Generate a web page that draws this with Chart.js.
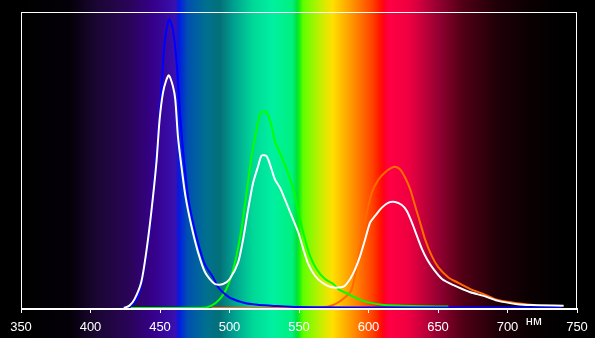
<!DOCTYPE html>
<html>
<head>
<meta charset="utf-8">
<script src="https://cdn.jsdelivr.net/npm/chart.js@4/dist/chart.umd.min.js"></script>
<style>
  html, body { margin: 0; padding: 0; background: #000; }
  #wrap { width: 595px; height: 338px; }
</style>
</head>
<body>
<div id="wrap"><canvas id="spectrum"></canvas></div>
<script>
// --- data (wavelength nm, relative intensity 0..100) --- //
const whiteNm = [424, 428, 431.7, 436.5, 440.1, 443.7, 447.4, 449.7, 452.1, 454.6, 456.4, 459.3, 461, 462.9, 465.4, 468.3, 472.6, 477.4, 482.5, 489.5, 495.4, 500.2, 506.2, 509.8, 513.4, 517, 520.6, 523.1, 526.7, 530.3, 532.7, 536.3, 539.9, 544.7, 549.5, 553.1, 556.7, 561.5, 566.3, 573.6, 582, 586.8, 590.4, 594, 597.6, 601.2, 604.7, 609.6, 614.4, 619.2, 624, 627.6, 631.2, 634.9, 638.5, 642.1, 646.8, 652.9, 661.2, 673.3, 682.9, 692.5, 707, 716.6, 740.4];
const whiteVal = [0, 0.8, 3, 8.7, 18.8, 32.2, 49, 63.6, 72.6, 77.1, 78.6, 74.9, 70.4, 58, 47.9, 37.8, 27.7, 18.8, 12, 8.1, 8.1, 9.8, 15.4, 23.2, 33.3, 42.3, 47.9, 51.5, 51.3, 46.8, 43.4, 40.6, 36.7, 31.1, 25.5, 19.9, 14.8, 10.9, 8.7, 7, 7.2, 9.8, 13.1, 17.6, 23.2, 28.9, 31.1, 33.9, 35.6, 35.8, 34.8, 32.8, 28.9, 24.3, 19.9, 16.5, 13.1, 9.8, 7.7, 5.3, 4.1, 2.5, 1.3, 1, 0.8];

const blueNm = [423, 430, 435.3, 441.3, 444.9, 448.5, 451, 453.3, 456.5, 459.3, 461.8, 464.2, 466.5, 470.1, 473.7, 478.6, 482.5, 488, 491.8, 496, 501.4, 511, 520, 530, 549, 600, 739];
const blueVal = [0, 1, 5.3, 22, 37.8, 58, 73.7, 89.6, 97.5, 94, 83.8, 67, 53.5, 37.8, 29, 19.9, 14.5, 10.5, 7, 5, 3.2, 1.7, 1.1, 0.8, 0.3, 0.2, 0.2];

const greenNm = [429, 480, 487, 493, 497.8, 501.4, 505, 508.6, 512.3, 515.9, 519.5, 522.6, 526.7, 530.3, 532.7, 536.3, 541.1, 545.9, 550.7, 554.3, 557.9, 562.7, 568.7, 574.7, 578.3, 585.5, 592.7, 600, 609.6, 624, 638.5, 657.4];
const greenVal = [0, 0, 0.8, 3, 6.4, 10.9, 17.6, 26.6, 39, 51.3, 60.3, 66.1, 66.1, 61.4, 56.3, 52.4, 46.8, 40.1, 30, 23.2, 17.6, 13.1, 9.8, 8.1, 6.4, 4.7, 3, 1.9, 1.1, 0.8, 0.6, 0.5];

const redNm = [487, 565, 574.7, 583.2, 588, 591.6, 595.2, 598.8, 602.4, 607.2, 612, 616.8, 619.2, 622.8, 626.4, 630, 633.6, 637.1, 640.7, 645.5, 650.3, 657.5, 663.7, 673.3, 682.9, 692.5, 707, 716.6, 720];
const redVal = [0, 0.2, 1, 3.6, 6.4, 14.2, 23.2, 32.2, 39, 43.4, 45.9, 47.4, 47.7, 46.8, 44, 40.1, 34.4, 28.9, 23.2, 17.6, 13.7, 10.3, 8.7, 6.4, 4.7, 2.8, 1.6, 1.1, 1];

const xTicks = [350, 400, 450, 500, 550, 600, 650, 700, 750];
const unitLabel = "нм";

// colour of the background strip at a given wavelength
const bandNm = [350, 385, 404, 428, 445, 461, 463.5, 466, 470, 483, 493, 503, 517, 531, 545, 548.5, 550, 553, 565, 574, 589, 603, 609, 611, 615, 628, 633, 651, 668, 692, 716, 740, 750];
const bandColor = ['#000000', '#040008', '#1a0632', '#2a0458', '#35008a', '#3a10b0', '#0818e0', '#0030d0', '#0050b0', '#007090', '#047078', '#00a090', '#00d898', '#00f0a0', '#00f080', '#00e040', '#10f010', '#60ff00', '#c0f000', '#ffe000', '#ff9000', '#ff4000', '#ff1000', '#ff0020', '#ff0044', '#f00040', '#e00040', '#900030', '#500015', '#200008', '#0a0002', '#000000', '#000000'];

function pts(xs, ys) {
  return xs.map((x, i) => ({ x: x, y: ys[i] }));
}

// --- background + frame --- //
const spectrumBg = {
  id: 'spectrumBg',
  beforeDraw(chart) {
    const ctx = chart.ctx;
    const xs = chart.scales.x;
    ctx.save();
    ctx.fillStyle = '#000';
    ctx.fillRect(0, 0, chart.width, chart.height);
    const x0 = xs.getPixelForValue(350);
    const x1 = xs.getPixelForValue(750);
    const g = ctx.createLinearGradient(x0, 0, x1, 0);
    bandNm.forEach((nm, i) => g.addColorStop((nm - 350) / 400, bandColor[i]));
    ctx.fillStyle = g;
    ctx.fillRect(x0, 0, x1 - x0, chart.height);
    ctx.restore();
  },
  beforeDatasetsDraw(chart) {
    const ctx = chart.ctx;
    const a = chart.chartArea;
    ctx.save();
    ctx.fillStyle = '#fff';
    ctx.fillRect(a.left, a.top, a.right - a.left, 1);
    ctx.fillRect(a.left, a.top, 1, a.bottom - a.top + 1);
    ctx.fillRect(a.right - 1, a.top, 1, a.bottom - a.top + 1);
    ctx.fillRect(a.left, a.bottom, a.right - a.left, 2);
    ctx.restore();
  },
  afterDraw(chart) {
    const ctx = chart.ctx;
    ctx.save();
    ctx.fillStyle = '#fff';
    ctx.font = '13px "Liberation Sans", Arial, sans-serif';
    ctx.textAlign = 'center';
    ctx.textBaseline = 'middle';
    ctx.fillText(unitLabel, chart.scales.x.getPixelForValue(719), 321);
    ctx.restore();
  }
};

const line = (label, xs, ys, color) => ({
  label: label,
  data: pts(xs, ys),
  borderColor: color,
  borderWidth: 2,
  pointRadius: 0,
  fill: false,
  tension: 0.25
});

new Chart(document.getElementById('spectrum'), {
  type: 'line',
  data: {
    datasets: [
      line('white', whiteNm, whiteVal, '#ffffff'),
      line('blue', blueNm, blueVal, '#0000ff'),
      line('green', greenNm, greenVal, '#00ff00'),
      line('red', redNm, redVal, '#ff6a00')
    ]
  },
  options: {
    responsive: true,
    maintainAspectRatio: false,
    animation: false,
    layout: { padding: { left: 21, right: 18, top: 12, bottom: 0 } },
    plugins: { legend: { display: false }, tooltip: { enabled: false } },
    scales: {
      x: {
        type: 'linear',
        min: 350,
        max: 750,
        afterBuildTicks(scale) { scale.ticks = xTicks.map(v => ({ value: v })); },
        afterFit(scale) { scale.height = 30; },
        grid: { display: true, drawOnChartArea: false, drawTicks: true, tickLength: 5, color: '#ffffff' },
        border: { display: false },
        ticks: {
          color: '#ffffff',
          padding: 7,
          maxRotation: 0,
          font: { family: '"Liberation Sans", Arial, sans-serif', size: 13 }
        }
      },
      y: {
        display: false,
        min: 0,
        max: 100
      }
    }
  },
  plugins: [spectrumBg]
});
</script>
</body>
</html>
